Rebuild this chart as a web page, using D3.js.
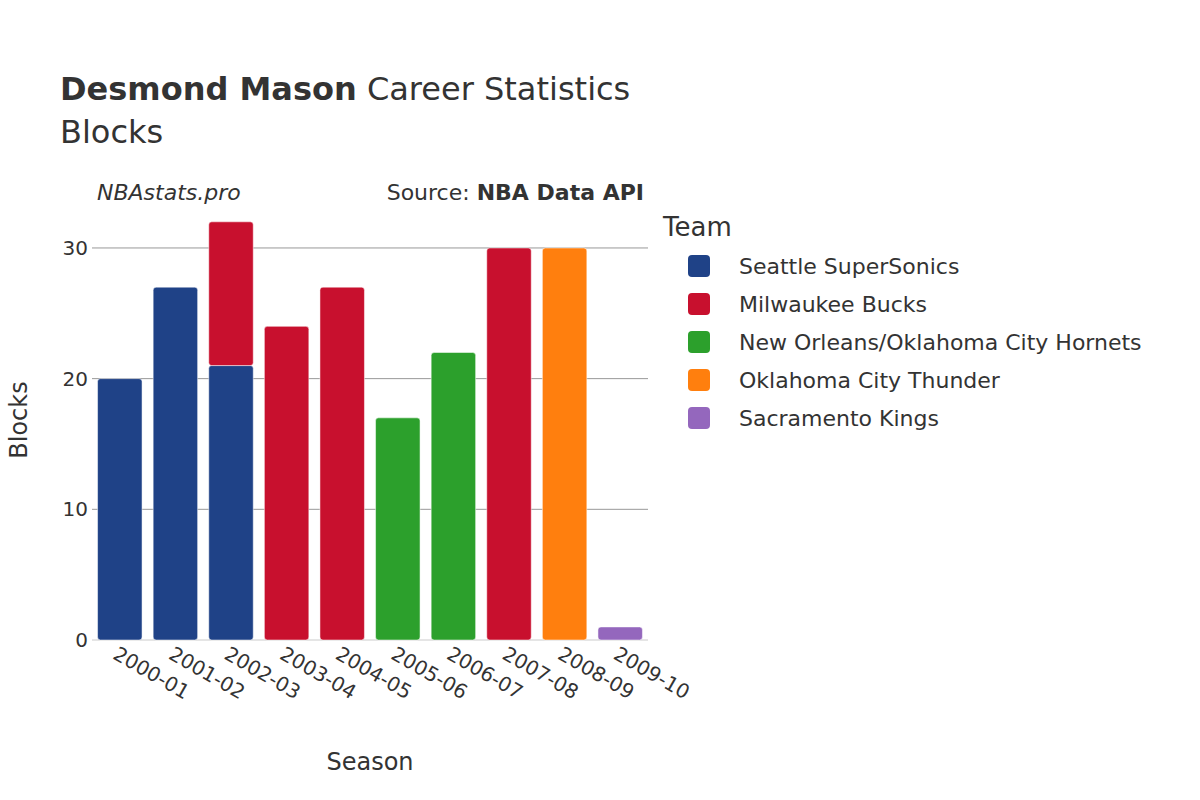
<!DOCTYPE html>
<html>
<head>
<meta charset="utf-8">
<script src="https://cdn.jsdelivr.net/npm/d3@7"></script>
<style>
body { margin: 0; background: #fff; }
text { font-family: "DejaVu Sans", sans-serif; fill: #333; }
</style>
</head>
<body>
<svg></svg>
<script>
// data
let seasons = ["2000-01","2001-02","2002-03","2003-04","2004-05","2005-06","2006-07","2007-08","2008-09","2009-10"];
let teams = ["Seattle SuperSonics","Milwaukee Bucks","New Orleans/Oklahoma City Hornets","Oklahoma City Thunder","Sacramento Kings"];
let colors = ["#1f4287","#c8102e","#2ca02c","#ff7f0e","#9467bd"];
let sonics  = [20, 27, 21, 0, 0, 0, 0, 0, 0, 0];
let bucks   = [0, 0, 11, 24, 27, 0, 0, 30, 0, 0];
let hornets = [0, 0, 0, 0, 0, 17, 22, 0, 0, 0];
let thunder = [0, 0, 0, 0, 0, 0, 0, 0, 30, 0];
let kings   = [0, 0, 0, 0, 0, 0, 0, 0, 0, 1];
let yTicks = [0, 10, 20, 30];

let series = [sonics, bucks, hornets, thunder, kings];

let svg = d3.select("svg").attr("width", 1200).attr("height", 800);

let plotLeft = 92, plotRight = 648, plotTop = 200, plotBottom = 640;

let x = d3.scaleBand().domain(seasons).range([plotLeft, plotRight]).paddingInner(0.2).paddingOuter(0.1);
let y = d3.scaleLinear().domain([0, 33.67]).range([plotBottom, plotTop]);

// grid
svg.selectAll("line.grid").data(yTicks).enter().append("line")
	.attr("x1", plotLeft).attr("x2", plotRight)
	.attr("y1", d => y(d)).attr("y2", d => y(d))
	.attr("stroke", d => d === 0 ? "#e5e5e5" : "#999")
	.attr("stroke-width", d => d === 0 ? 2 : 1);

// bars
seasons.forEach(function(s, i) {
	let base = 0;
	series.forEach(function(vals, t) {
		let v = vals[i];
		if (!v) return;
		svg.append("rect")
			.attr("x", x(s))
			.attr("y", y(base + v))
			.attr("width", x.bandwidth())
			.attr("height", y(base) - y(base + v))
			.attr("rx", 3)
			.attr("fill", colors[t])
			.attr("stroke", "#fff").attr("stroke-width", 0.5);
		base += v;
	});
});

// y ticks
svg.selectAll("text.yt").data(yTicks).enter().append("text")
	.attr("x", plotLeft - 4).attr("y", d => y(d) + 7)
	.attr("text-anchor", "end").attr("font-size", 20)
	.text(d => d);

// x ticks
svg.selectAll("text.xt").data(seasons).enter().append("text")
	.attr("transform", d => "translate(" + (x(d) + x.bandwidth() / 2 - 8) + "," + 658 + ") rotate(30)")
	.attr("font-size", 20)
	.text(d => d);

// axis titles
svg.append("text").attr("x", 370).attr("y", 770).attr("text-anchor", "middle").attr("font-size", 24).text("Season");
svg.append("text").attr("transform", "translate(27,420) rotate(-90)").attr("text-anchor", "middle").attr("font-size", 24).text("Blocks");

// title
let title = svg.append("text").attr("x", 60).attr("y", 100).attr("font-size", 32);
title.append("tspan").attr("font-weight", "bold").text("Desmond Mason");
title.append("tspan").text(" Career Statistics");
svg.append("text").attr("x", 60).attr("y", 143).attr("font-size", 32).text("Blocks");

svg.append("text").attr("x", 97).attr("y", 200).attr("font-size", 22).attr("font-style", "italic").text("NBAstats.pro");
let src = svg.append("text").attr("x", 644).attr("y", 200).attr("font-size", 22).attr("text-anchor", "end");
src.append("tspan").text("Source: ");
src.append("tspan").attr("font-weight", "bold").text("NBA Data API");

// legend
svg.append("text").attr("x", 663).attr("y", 236).attr("font-size", 26).text("Team");
let leg = svg.selectAll("g.leg").data(teams).enter().append("g")
	.attr("transform", (d, i) => "translate(0," + (266 + i * 38) + ")");
leg.append("rect").attr("x", 688).attr("y", -11).attr("width", 22).attr("height", 22).attr("rx", 4)
	.attr("fill", (d, i) => colors[i]);
leg.append("text").attr("x", 739).attr("y", 8).attr("font-size", 22).text(d => d);
</script>
</body>
</html>
